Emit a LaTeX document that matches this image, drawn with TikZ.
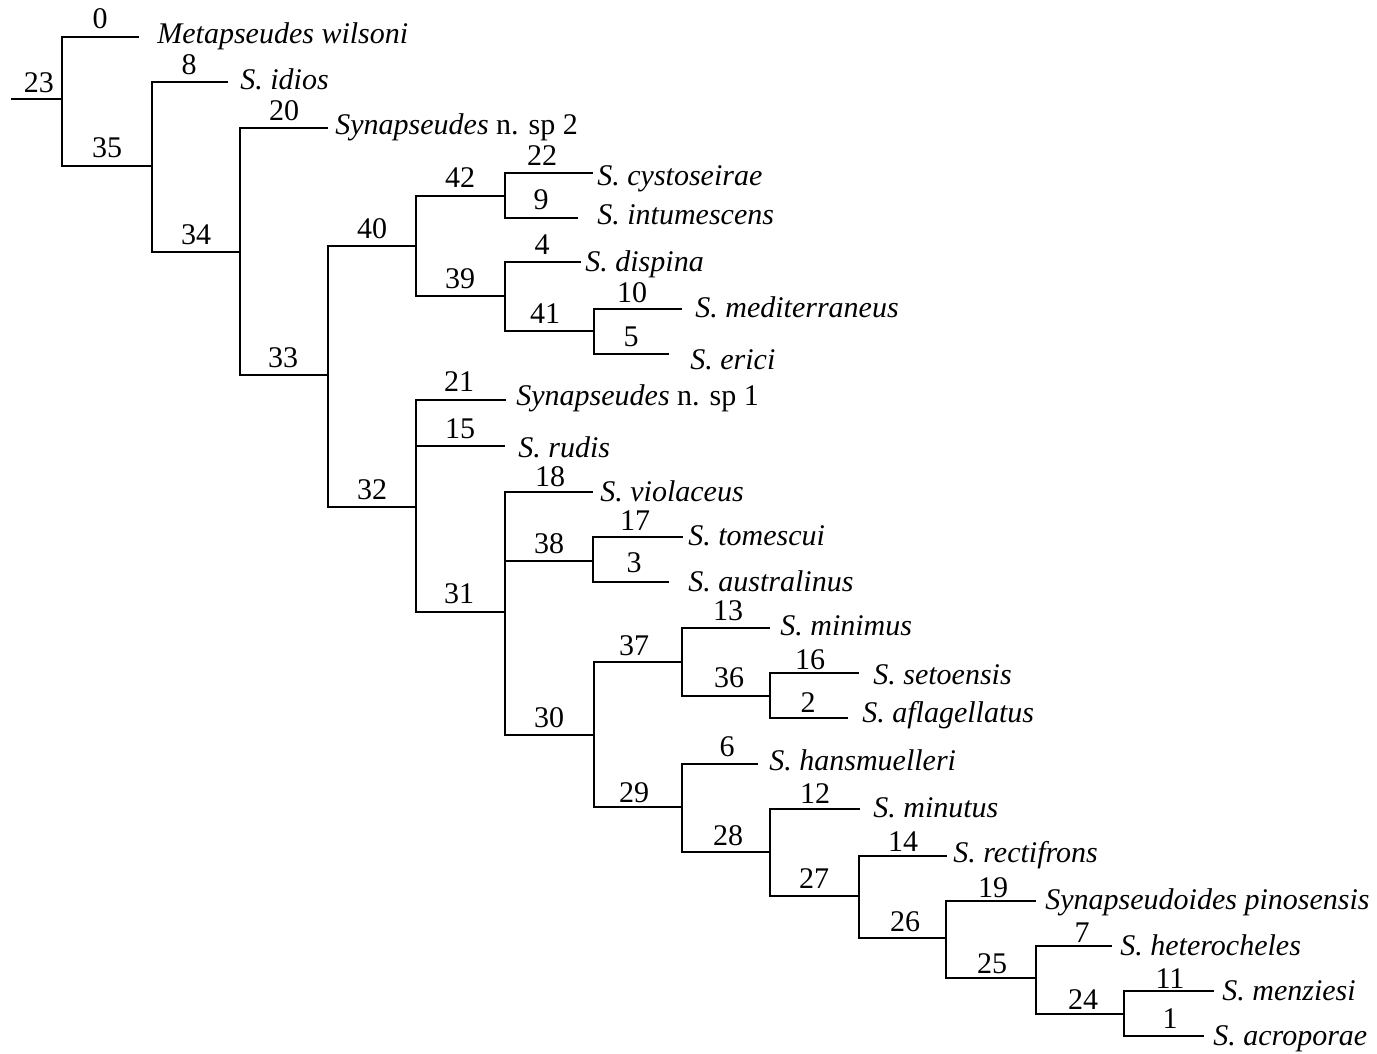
\documentclass[tikz,border=0pt]{standalone}
\usepackage{fontspec}
\setmainfont{Liberation Serif}
\begin{document}
\begin{tikzpicture}[x=0.5pt,y=-0.5pt,
  branch/.style={line width=1.4pt,line cap=rect,line join=miter},
  num/.style={anchor=base,inner sep=0pt,font=\fontsize{15}{18}\selectfont},
  taxon/.style={anchor=base west,inner sep=0pt,font=\fontsize{15}{18}\selectfont\itshape}]
\fill[white] (0,0) rectangle (1377,1054);
\useasboundingbox (0,0) rectangle (1377,1054);

% internal nodes: x of the vertical bar, y of the branch leading to it
\coordinate (root) at (12,99);
\coordinate (n23) at (62,99);
\coordinate (n35) at (152,166);
\coordinate (n34) at (240,252);
\coordinate (n33) at (328,375);
\coordinate (n40) at (416,246);
\coordinate (n42) at (505,196);
\coordinate (n39) at (505,296);
\coordinate (n41) at (594,331);
\coordinate (n32) at (416,507);
\coordinate (n31) at (505,612);
\coordinate (n38) at (593,561);
\coordinate (n30) at (594,735);
\coordinate (n37) at (682,662);
\coordinate (n36) at (770,696);
\coordinate (n29) at (682,807);
\coordinate (n28) at (770,852);
\coordinate (n27) at (859,896);
\coordinate (n26) at (946,938);
\coordinate (n25) at (1036,978);
\coordinate (n24) at (1124,1014);

% terminal branch tips
\coordinate (t0) at (138,37);
\coordinate (t8) at (227,82);
\coordinate (t20) at (327,128);
\coordinate (t22) at (592,173);
\coordinate (t9) at (577,218);
\coordinate (t4) at (580,262);
\coordinate (t10) at (681,309);
\coordinate (t5) at (668,354);
\coordinate (t21) at (505,400);
\coordinate (t15) at (504,446);
\coordinate (t18) at (592,492);
\coordinate (t17) at (682,537);
\coordinate (t3) at (668,582);
\coordinate (t13) at (769,628);
\coordinate (t16) at (858,673);
\coordinate (t2) at (847,718);
\coordinate (t6) at (757,764);
\coordinate (t12) at (859,809);
\coordinate (t14) at (946,856);
\coordinate (t19) at (1035,901);
\coordinate (t7) at (1111,946);
\coordinate (t11) at (1213,991);
\coordinate (t1) at (1203,1036);

% branches
\draw[branch] (root) -- (n23);
\draw[branch] (n23) |- (t0);   \draw[branch] (n23) |- (n35);
\draw[branch] (n35) |- (t8);   \draw[branch] (n35) |- (n34);
\draw[branch] (n34) |- (t20);  \draw[branch] (n34) |- (n33);
\draw[branch] (n33) |- (n40);  \draw[branch] (n33) |- (n32);
\draw[branch] (n40) |- (n42);  \draw[branch] (n40) |- (n39);
\draw[branch] (n42) |- (t22);  \draw[branch] (n42) |- (t9);
\draw[branch] (n39) |- (t4);   \draw[branch] (n39) |- (n41);
\draw[branch] (n41) |- (t10);  \draw[branch] (n41) |- (t5);
\draw[branch] (n32) |- (t21);  \draw[branch] (n32) |- (t15);
\draw[branch] (n32) |- (n31);
\draw[branch] (n31) |- (t18);  \draw[branch] (n31) |- (n38);
\draw[branch] (n31) |- (n30);
\draw[branch] (n38) |- (t17);  \draw[branch] (n38) |- (t3);
\draw[branch] (n30) |- (n37);  \draw[branch] (n30) |- (n29);
\draw[branch] (n37) |- (t13);  \draw[branch] (n37) |- (n36);
\draw[branch] (n36) |- (t16);  \draw[branch] (n36) |- (t2);
\draw[branch] (n29) |- (t6);   \draw[branch] (n29) |- (n28);
\draw[branch] (n28) |- (t12);  \draw[branch] (n28) |- (n27);
\draw[branch] (n27) |- (t14);  \draw[branch] (n27) |- (n26);
\draw[branch] (n26) |- (t19);  \draw[branch] (n26) |- (n25);
\draw[branch] (n25) |- (t7);   \draw[branch] (n25) |- (n24);
\draw[branch] (n24) |- (t11);  \draw[branch] (n24) |- (t1);

% branch numbers
\node[num] (l23) at (39,93) {23};
\node[num] (l0) at (100,29) {0};
\node[num] (l35) at (107,158) {35};
\node[num] (l8) at (189,75) {8};
\node[num] (l34) at (196,244) {34};
\node[num] (l20) at (284,121) {20};
\node[num] (l33) at (283,367) {33};
\node[num] (l40) at (372,238) {40};
\node[num] (l32) at (372,499) {32};
\node[num] (l42) at (460,188) {42};
\node[num] (l39) at (460,288) {39};
\node[num] (l22) at (542,166) {22};
\node[num] (l9) at (541,210) {9};
\node[num] (l4) at (542,254) {4};
\node[num] (l41) at (545,323) {41};
\node[num] (l10) at (632,302) {10};
\node[num] (l5) at (631,346) {5};
\node[num] (l21) at (459,391) {21};
\node[num] (l15) at (460,438) {15};
\node[num] (l31) at (459,603) {31};
\node[num] (l18) at (550,486) {18};
\node[num] (l38) at (549,553) {38};
\node[num] (l17) at (635,530) {17};
\node[num] (l3) at (634,572) {3};
\node[num] (l30) at (549,727) {30};
\node[num] (l37) at (634,655) {37};
\node[num] (l13) at (728,620) {13};
\node[num] (l36) at (729,687) {36};
\node[num] (l16) at (810,669) {16};
\node[num] (l2) at (808,712) {2};
\node[num] (l29) at (634,802) {29};
\node[num] (l6) at (727,756) {6};
\node[num] (l28) at (728,845) {28};
\node[num] (l12) at (815,803) {12};
\node[num] (l27) at (814,888) {27};
\node[num] (l14) at (903,851) {14};
\node[num] (l26) at (905,931) {26};
\node[num] (l19) at (993,897) {19};
\node[num] (l25) at (992,973) {25};
\node[num] (l7) at (1082,942) {7};
\node[num] (l24) at (1083,1009) {24};
\node[num] (l11) at (1170,988) {11};
\node[num] (l1) at (1170,1028) {1};

% taxon names
\node[taxon] (sp0) at (157,44) {Metapseudes wilsoni};
\node[taxon] (sp8) at (240,90) {S. idios};
\node[taxon] (sp20) at (335,134) {Synapseudes\upshape{} n. sp 2};
\node[taxon] (sp22) at (597,185) {S. cystoseirae};
\node[taxon] (sp9) at (597,224) {S. intumescens};
\node[taxon] (sp4) at (585,271) {S. dispina};
\node[taxon] (sp10) at (695,317) {S. mediterraneus};
\node[taxon] (sp5) at (690,369) {S. erici};
\node[taxon] (sp21) at (516,405) {Synapseudes\upshape{} n. sp 1};
\node[taxon] (sp15) at (518,457) {S. rudis};
\node[taxon] (sp18) at (600,501) {S. violaceus};
\node[taxon] (sp17) at (688,545) {S. tomescui};
\node[taxon] (sp3) at (688,591) {S. australinus};
\node[taxon] (sp13) at (780,635) {S. minimus};
\node[taxon] (sp16) at (873,684) {S. setoensis};
\node[taxon] (sp2) at (862,722) {S. aflagellatus};
\node[taxon] (sp6) at (769,770) {S. hansmuelleri};
\node[taxon] (sp12) at (873,817) {S. minutus};
\node[taxon] (sp14) at (953,862) {S. rectifrons};
\node[taxon] (sp19) at (1045,909) {Synapseudoides pinosensis};
\node[taxon] (sp7) at (1120,955) {S. heterocheles};
\node[taxon] (sp11) at (1222,1000) {S. menziesi};
\node[taxon] (sp1) at (1213,1045) {S. acroporae};
\end{tikzpicture}
\end{document}
